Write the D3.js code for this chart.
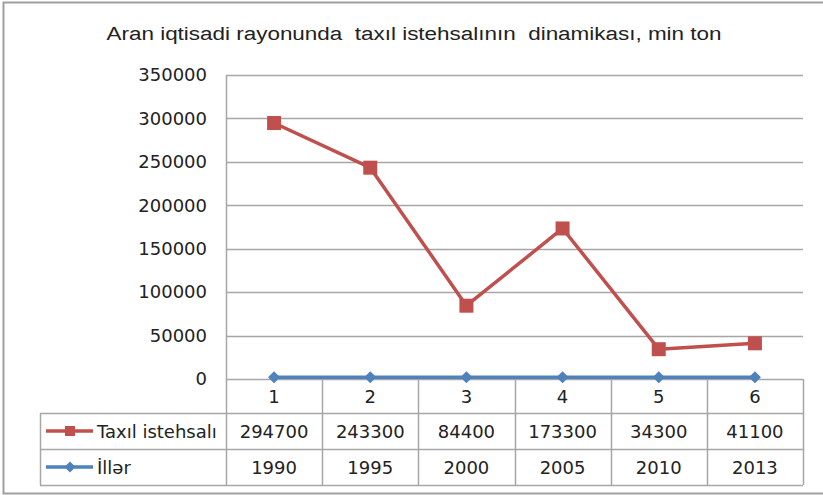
<!DOCTYPE html>
<html lang="az">
<head>
<meta charset="utf-8">
<title>Aran iqtisadi rayonunda taxıl istehsalının dinamikası</title>
<script src="https://cdnjs.cloudflare.com/ajax/libs/d3/7.8.5/d3.min.js"></script>
<style>
  body { margin: 0; background: #fff; }
  svg text { font-family: "DejaVu Sans", sans-serif; fill: #222; }
</style>
</head>
<body>
<div id="chart"></div>
<script>
// data
var categories = ["1", "2", "3", "4", "5", "6"];
var grain = [294700, 243300, 84400, 173300, 34300, 41100];
var years = [1990, 1995, 2000, 2005, 2010, 2013];
var yTicks = [0, 50000, 100000, 150000, 200000, 250000, 300000, 350000];
var seriesNames = ["Taxıl istehsalı", "İllər"];
var title = "Aran iqtisadi rayonunda  taxıl istehsalının  dinamikası, min ton";

var W = 823, H = 495;
var plot = {left: 226, right: 803, top: 75, bottom: 379};
var rowH = [34, 36, 36];   // table rows: categories, grain, years
var tableLeft = 40;
var red = "#C0504D", blue = "#4F81BD", grid = "#A6A6A6";

var svg = d3.select("#chart").append("svg")
  .attr("width", W).attr("height", H);

// outer frame
svg.append("rect")
  .attr("x", 3.5).attr("y", 2.5).attr("width", W + 10).attr("height", H - 4)
  .attr("fill", "none").attr("stroke", "#A0A0A0").attr("stroke-width", 2);

svg.append("text")
  .attr("x", 414).attr("y", 40)
  .attr("text-anchor", "middle")
  .attr("xml:space", "preserve")
  .style("font-family", "'Liberation Sans', Arial, sans-serif")
  .style("font-size", "18px")
  .attr("textLength", 615).attr("lengthAdjust", "spacingAndGlyphs")
  .text(title);

var x = d3.scaleBand().domain(categories).range([plot.left, plot.right]);
var y = d3.scaleLinear().domain([0, 350000]).range([plot.bottom, plot.top]);

// gridlines
svg.append("g").selectAll("line").data(yTicks).enter().append("line")
  .attr("x1", plot.left).attr("x2", plot.right)
  .attr("y1", function(d) { return Math.round(y(d)) + 0.5; })
  .attr("y2", function(d) { return Math.round(y(d)) + 0.5; })
  .attr("stroke", grid).attr("stroke-width", 1.5);

// y axis (labels only, axis line drawn with the table)
var yAxis = d3.axisLeft(y).tickValues(yTicks).tickSize(0).tickPadding(19)
  .tickFormat(d3.format("d"));
var gy = svg.append("g").attr("transform", "translate(" + plot.left + ",0)").call(yAxis);
gy.select(".domain").remove();
gy.selectAll("text").style("font-size", "18px")
  .style("font-family", "'DejaVu Sans', sans-serif").attr("fill", "#222");

// data table
var rowY = [plot.bottom];
rowH.forEach(function(h, i) { rowY.push(rowY[i] + h); });
var tbl = svg.append("g").attr("stroke", grid).attr("stroke-width", 1.5);
// vertical lines
var colEdges = categories.map(function(c) { return x(c); }).concat([plot.right]);
tbl.selectAll(".v").data(colEdges).enter().append("line")
  .attr("x1", function(d) { return Math.round(d) + 0.5; })
  .attr("x2", function(d) { return Math.round(d) + 0.5; })
  .attr("y1", function(d, i) { return i === 0 ? plot.top : rowY[0]; })
  .attr("y2", rowY[3]);
tbl.append("line").attr("x1", tableLeft + 0.5).attr("x2", tableLeft + 0.5)
  .attr("y1", rowY[1]).attr("y2", rowY[3]);
[1, 2, 3].forEach(function(i) {
  tbl.append("line").attr("x1", tableLeft).attr("x2", plot.right)
    .attr("y1", rowY[i] + 0.5).attr("y2", rowY[i] + 0.5);
});

var cx = function(d, i) { return x(categories[i]) + x.bandwidth() / 2; };
var fmt = d3.format("d");
[categories, grain, years].forEach(function(row, r) {
  svg.append("g").selectAll("text").data(row).enter().append("text")
    .attr("x", cx)
    .attr("y", (rowY[r] + rowY[r + 1]) / 2 + 7)
    .attr("text-anchor", "middle")
    .style("font-size", "18px")
    .text(function(d) { return r === 0 ? d : fmt(d); });
});

// diamond = square turned 45 degrees
var diamond = d3.symbol().type(d3.symbolSquare);

// legend keys in the table
var keys = [{name: seriesNames[0], color: red, rot: 0, size: 100},
            {name: seriesNames[1], color: blue, rot: 45, size: 60}];
keys.forEach(function(k, i) {
  var ym = (rowY[i + 1] + rowY[i + 2]) / 2;
  svg.append("line").attr("x1", 46).attr("x2", 93).attr("y1", ym).attr("y2", ym)
    .attr("stroke", k.color).attr("stroke-width", 3.5);
  svg.append("path").attr("d", diamond.size(k.size)())
    .attr("transform", "translate(70," + ym + ") rotate(" + k.rot + ")").attr("fill", k.color);
  svg.append("text").attr("x", 97).attr("y", ym + 7).style("font-size", "18px")
    .text(k.name);
});

// series lines
var line = d3.line().x(cx).y(function(d) { return y(d); });
svg.append("path").datum(years).attr("d", line)
  .attr("fill", "none").attr("stroke", blue).attr("stroke-width", 3.5);
svg.append("g").selectAll("path").data(years).enter().append("path")
  .attr("d", diamond.size(72)())
  .attr("transform", function(d, i) { return "translate(" + cx(d, i) + "," + y(d) + ") rotate(45)"; })
  .attr("fill", blue);

svg.append("path").datum(grain).attr("d", line)
  .attr("fill", "none").attr("stroke", red).attr("stroke-width", 3.5)
  .attr("stroke-linejoin", "round");
svg.append("g").selectAll("rect").data(grain).enter().append("rect")
  .attr("x", function(d, i) { return cx(d, i) - 7; })
  .attr("y", function(d) { return y(d) - 7; })
  .attr("width", 14).attr("height", 14)
  .attr("fill", red);
</script>
</body>
</html>
